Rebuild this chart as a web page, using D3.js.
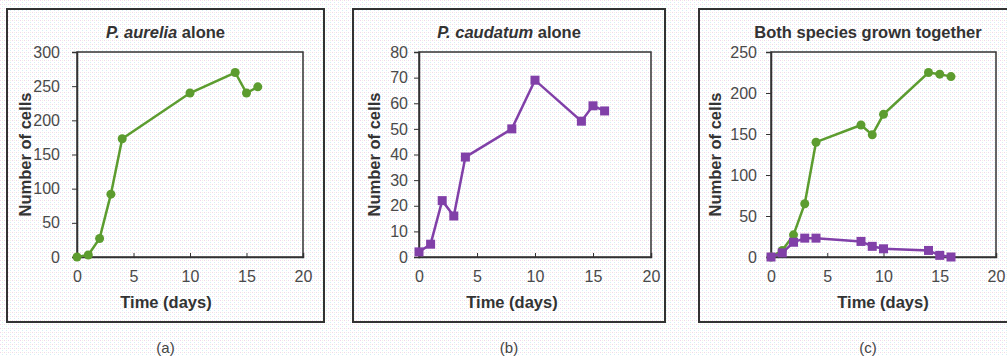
<!DOCTYPE html>
<html>
<head>
<meta charset="utf-8">
<script src="https://cdn.jsdelivr.net/npm/d3@7"></script>
<style>
    body { margin: 0; background: #fff; }
    svg { display: block; font-family: "Liberation Sans", Arial, sans-serif; }
    .tick text { font-size: 16px; fill: #4a4a4a; }
    .ttl { font-size: 16.5px; font-weight: bold; fill: #333; }
    .lbl { font-size: 16.5px; font-weight: bold; fill: #333; }
    .cap { font-size: 15px; fill: #444; }
</style>
</head>
<body>
<div id="chart"></div>
<script>

// data
let aureliaDays = [0, 1, 2, 3, 4, 10, 14, 15, 16];
let aureliaAlone = [0, 3, 27, 92, 173, 240, 270, 240, 249];

let caudatumDays = [0, 1, 2, 3, 4, 8, 10, 14, 15, 16];
let caudatumAlone = [2, 5, 22, 16, 39, 50, 69, 53, 59, 57];

let togetherDays = [0, 1, 2, 3, 4, 8, 9, 10, 14, 15, 16];
let aureliaTogether = [0, 8, 27, 65, 140, 161, 149, 174, 225, 223, 220];
let caudatumTogether = [0, 5, 18, 23, 23, 19, 13, 10, 8, 2, 0];

let xTicks = [0, 5, 10, 15, 20];
let panelTitles = ["P. aurelia alone", "P. caudatum alone", "Both species grown together"];
let captions = ["(a)", "(b)", "(c)"];

let green = "#5c9c2f";
let purple = "#8140a8";

let width = 1007, height = 356;

let svg = d3.select("#chart").append("svg")
    .attr("width", width)
    .attr("height", height);

// faint dithered background like the scanned original
let pat = svg.append("defs").append("pattern")
    .attr("id", "dither")
    .attr("width", 4).attr("height", 4)
    .attr("patternUnits", "userSpaceOnUse");
pat.append("rect").attr("width", 4).attr("height", 4).attr("fill", "#fff");
pat.append("rect").attr("x", 0).attr("y", 0).attr("width", 1).attr("height", 1).attr("fill", "#f0d6ec");
pat.append("rect").attr("x", 2).attr("y", 2).attr("width", 1).attr("height", 1).attr("fill", "#d6eef5");
pat.append("rect").attr("x", 2).attr("y", 0).attr("width", 1).attr("height", 1).attr("fill", "#f2f2e2");

svg.append("rect").attr("width", width).attr("height", height).attr("fill", "url(#dither)");

let panels = [
    {frame: [7, 9, 317, 313], plot: [77, 52, 303, 257], yMax: 300, yStep: 50, cx: 165.5,
        xLab: 166, yLab: 31, yPad: 12,
        series: [{days: aureliaDays, vals: aureliaAlone, color: green, shape: "circle"}]},
    {frame: [353, 9, 312, 313], plot: [419, 52, 651, 257], yMax: 80, yStep: 10, cx: 509,
        xLab: 512, yLab: 380, yPad: 6,
        series: [{days: caudatumDays, vals: caudatumAlone, color: purple, shape: "square"}]},
    {frame: [699, 9, 340, 313], plot: [771, 52, 996, 257], yMax: 250, yStep: 50, cx: 868,
        xLab: 883, yLab: 721, yPad: 9,
        series: [{days: togetherDays, vals: aureliaTogether, color: green, shape: "circle"},
                 {days: togetherDays, vals: caudatumTogether, color: purple, shape: "square"}]}
];

panels.forEach(function (p, i) {
    let f = p.frame;
    svg.append("rect")
        .attr("x", f[0]).attr("y", f[1])
        .attr("width", f[2]).attr("height", f[3])
        .attr("fill", "none")
        .attr("stroke", "#333")
        .attr("stroke-width", 2);

    let [l, t, r, b] = p.plot;

    let x = d3.scaleLinear().domain([0, 20]).range([l, r]);
    let y = d3.scaleLinear().domain([0, p.yMax]).range([b, t]);

    svg.append("rect")
        .attr("x", l).attr("y", t)
        .attr("width", r - l).attr("height", b - t)
        .attr("fill", "none")
        .attr("stroke", "#333")
        .attr("stroke-width", 1.5);

    svg.append("g")
        .attr("transform", "translate(0," + b + ")")
        .call(d3.axisBottom(x).tickValues(xTicks).tickSize(-4).tickPadding(14))
        .call(g => g.select(".domain").attr("stroke", "#333").attr("stroke-width", 1.5))
        .call(g => g.selectAll(".tick line").attr("stroke", "#333"));

    svg.append("g")
        .attr("transform", "translate(" + l + ",0)")
        .call(d3.axisLeft(y).tickValues(d3.range(0, p.yMax + 1, p.yStep)).tickSize(5).tickPadding(p.yPad))
        .call(g => g.select(".domain").attr("stroke", "#333").attr("stroke-width", 1.5))
        .call(g => g.selectAll(".tick line").attr("stroke", "#333"));

    // title
    let title = svg.append("text")
        .attr("class", "ttl")
        .attr("x", p.cx).attr("y", 38)
        .attr("text-anchor", "middle");
    if (i < 2) {
        let parts = panelTitles[i].split(" ");
        title.append("tspan").attr("font-style", "italic").text(parts[0] + " " + parts[1]);
        title.append("tspan").text(" " + parts.slice(2).join(" "));
    } else {
        title.text(panelTitles[i]);
    }

    svg.append("text")
        .attr("class", "lbl")
        .attr("x", p.xLab)
        .attr("y", 308)
        .attr("text-anchor", "middle")
        .text("Time (days)");

    svg.append("text")
        .attr("class", "lbl")
        .attr("transform", "translate(" + p.yLab + "," + ((t + b) / 2) + ") rotate(-90)")
        .attr("text-anchor", "middle")
        .text("Number of cells");

    svg.append("text")
        .attr("class", "cap")
        .attr("x", p.cx).attr("y", 353)
        .attr("text-anchor", "middle")
        .text(captions[i]);

    let line = d3.line()
        .x(d => x(d[0]))
        .y(d => y(d[1]));

    p.series.forEach(function (s) {
        let pts = s.days.map((d, k) => [d, s.vals[k]]);

        svg.append("path")
            .datum(pts)
            .attr("d", line)
            .attr("fill", "none")
            .attr("stroke", s.color)
            .attr("stroke-width", 2.5);

        if (s.shape == "circle") {
            svg.append("g").selectAll("circle")
                .data(pts)
                .enter()
                .append("circle")
                .attr("cx", d => x(d[0]))
                .attr("cy", d => y(d[1]))
                .attr("r", 4.5)
                .attr("fill", s.color);
        } else {
            svg.append("g").selectAll("rect")
                .data(pts)
                .enter()
                .append("rect")
                .attr("x", d => x(d[0]) - 4.5)
                .attr("y", d => y(d[1]) - 4.5)
                .attr("width", 9)
                .attr("height", 9)
                .attr("fill", s.color);
        }
    });
});

</script>
</body>
</html>
